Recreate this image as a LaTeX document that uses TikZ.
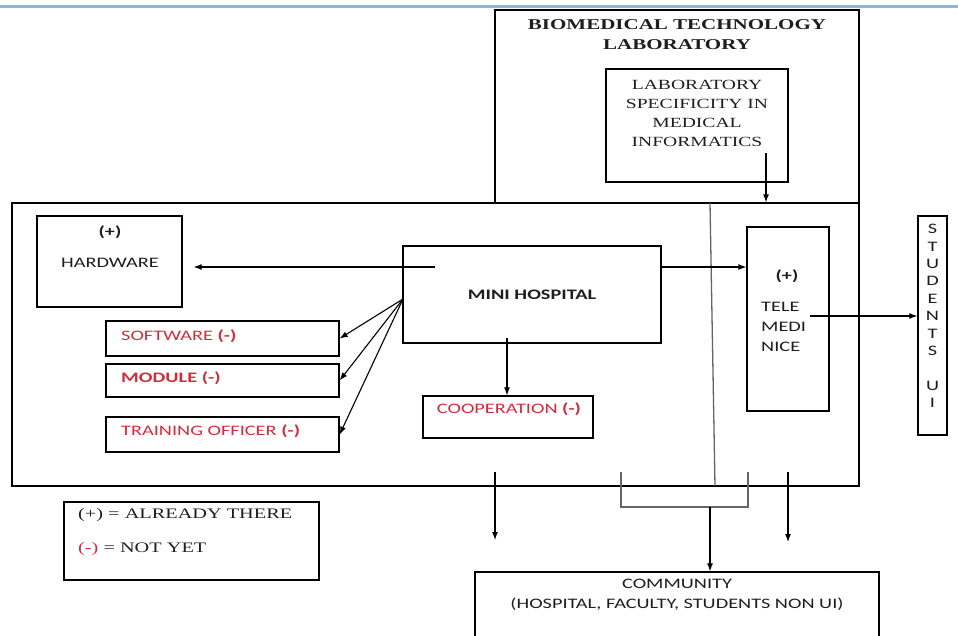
\documentclass[tikz,border=0pt]{standalone}
\usepackage{fontspec}
\usepackage{tikz}
\usetikzlibrary{arrows.meta}
\newfontfamily\calib[FakeStretch=1.4]{Carlito}
\newfontfamily\tms[FakeStretch=1.4]{Liberation Serif}
\definecolor{ink}{RGB}{30,30,30}
\definecolor{notyet}{RGB}{210,45,60}
\definecolor{rule}{RGB}{149,179,215}
\definecolor{wire}{RGB}{100,100,100}
\tikzset{
  % arrow tips and common styles
  >={Latex[length=8pt,width=6pt]},
  line/.style={draw, ->, line width=1.1pt},
  box/.style={draw, rectangle, line width=1.3pt, inner sep=0pt},
  sans/.style={font=\calib\fontsize{14.5}{17}\selectfont, text=ink, inner sep=0pt},
  serif/.style={font=\tms\fontsize{14}{19}\selectfont, text=ink, inner sep=0pt, align=center},
  minus/.style={text=notyet}
}
\newcommand{\nyet}{\textbf{(-)}}

\begin{document}
\begin{tikzpicture}[x=1pt, y=-1pt]
        \useasboundingbox (0,0) rectangle (958,635);
        \draw[rule, line width=3pt] (0,6.5) -- (958,6.5);

        % Define nodes
        \node[box, minimum width=364, minimum height=193] (lab) at (677,106.5) {};
        \node[serif, font=\tms\bfseries\fontsize{15}{20}\selectfont] (lab-title) at (677,35) {BIOMEDICAL TECHNOLOGY\\LABORATORY};
        \node[box, minimum width=182, minimum height=113] (spec) at (697,125.5) {};
        \node[serif] (spec-txt) at (697,113.5) {LABORATORY\\SPECIFICITY IN\\MEDICAL\\INFORMATICS};
        \node[box, fill=white, minimum width=847, minimum height=283] (main) at (435.5,344.5) {};

        \node[box, minimum width=145, minimum height=91] (hw) at (109.5,261.5) {};
        \node[sans, align=center] (hw-txt) at (110,246.5) {\textbf{(+)}\\[14pt]HARDWARE};
        \node[box, minimum width=258, minimum height=97, sans, font=\calib\bfseries\fontsize{14.5}{17}\selectfont] (mini) at (532,294.5) {MINI HOSPITAL};
        \node[box, minimum width=233, minimum height=35] (sw) at (222.5,338.5) {};
        \node[sans, minus, anchor=west] (sw-txt) at (121,336) {SOFTWARE \nyet};
        \node[box, minimum width=233, minimum height=33] (mod) at (222.5,380.5) {};
        \node[sans, minus, anchor=west, font=\calib\bfseries\fontsize{14.5}{17}\selectfont] (mod-txt) at (121,378) {MODULE (-)};
        \node[box, minimum width=233, minimum height=35] (train) at (222.5,434.5) {};
        \node[sans, minus, anchor=west] (train-txt) at (121,431) {TRAINING OFFICER \nyet};
        \node[box, minimum width=170, minimum height=42] (coop) at (508,417) {};
        \node[sans, minus] (coop-txt) at (509,409) {COOPERATION \nyet};

        \node[box, minimum width=82, minimum height=184] (tele) at (788,319) {};
        \node[sans] (tele-mark) at (787,276) {\textbf{(+)}};
        \node[sans, align=left, anchor=west, font=\calib\fontsize{14.5}{20}\selectfont] (tele-txt) at (761,327) {TELE\\MEDI\\NICE};
        \node[box, minimum width=29, minimum height=219] (stud) at (932.5,325.5) {};
        \foreach \ch [count=\i] in {S,T,U,D,E,N,T,S,{},U,I}
          \node[sans] at (932.5,{229+17.4*(\i-1)}) {\ch};

        \node[box, minimum width=404, minimum height=88] (comm) at (677,616) {};
        \node[sans, align=center, font=\calib\fontsize{14.5}{20}\selectfont] (comm-txt) at (677,595) {COMMUNITY\\(HOSPITAL, FACULTY, STUDENTS NON UI)};

        \node[box, minimum width=255, minimum height=78] (legend) at (191.5,541) {};
        \node[serif, anchor=west, font=\tms\fontsize{14.5}{17}\selectfont] (leg-plus) at (78,515) {(+) = ALREADY THERE};
        \node[serif, anchor=west, font=\tms\fontsize{14.5}{17}\selectfont] (leg-minus) at (78,549) {\textcolor{notyet}{(-)} = NOT YET};

        % Define connections
        \coordinate (spec-out) at (766,153);
        \coordinate (mini-out) at (435,267);
        \coordinate (tele-out) at (810,316);
        \coordinate (fan) at (403,299);
        \coordinate (coop-in) at (507,338);
        \coordinate (sep-top) at (710,203);
        \coordinate (sep-bot) at (715,486);
        \coordinate (drop-l) at (495,472);
        \coordinate (drop-l-end) at (495,540);
        \coordinate (drop-r) at (788,472);
        \coordinate (drop-r-end) at (788,542);
        \coordinate (brk-l) at (621,472);
        \coordinate (brk-r) at (748,472);
        \coordinate (brk-mid) at (710,507);

        \draw[wire, line width=1.3pt] (sep-top) -- (sep-bot);
        \path [line] (spec-out) -- (spec-out |- main.north);
        \path [line, shorten >=11pt] (mini-out) -- (hw.east |- mini-out);
        \path [line] (mini.east |- mini-out) -- (tele.west |- mini-out);
        \path [line] (tele-out) -- (stud.west |- tele-out);
        \foreach \t in {sw, mod, train}
          \path [line] (fan) -- (\t.east);
        \path [line] (coop-in) -- (coop-in |- coop.north);
        \path [line] (drop-l) -- (drop-l-end);
        \path [line] (drop-r) -- (drop-r-end);
        \draw[wire, line width=1.3pt] (brk-l) -- (brk-l |- brk-mid) -- (brk-r |- brk-mid) -- (brk-r);
        \path [line] (brk-mid) -- (brk-mid |- comm.north);
    \end{tikzpicture}
\end{document}
